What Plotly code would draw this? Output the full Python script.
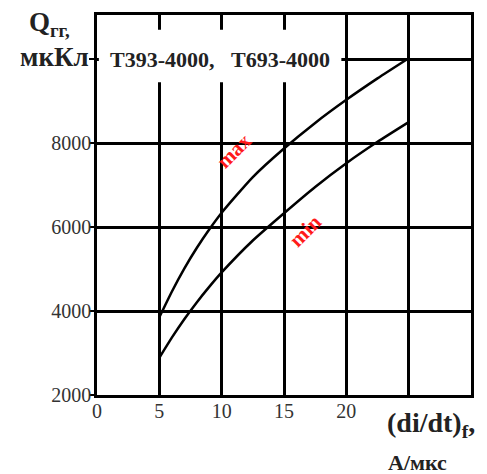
import plotly.graph_objects as go

# Data
x_max = [5, 6, 7, 8, 9, 10, 12.5, 15, 17.5, 20, 22.5, 25]
q_max = [3850, 4460, 5010, 5500, 5940, 6340, 7190, 7870, 8480, 9030, 9540, 10020]
x_min = [5, 6, 7, 8, 9, 10, 12.5, 15, 17.5, 20, 22.5, 25]
q_min = [2885, 3365, 3805, 4205, 4575, 4920, 5680, 6330, 6955, 7520, 8030, 8500]

x_ticks = [0, 5, 10, 15, 20, 25]
x_ticktext = ["0", "5", "10", "15", "20", ""]
y_ticks = [2000, 4000, 6000, 8000, 10000]
y_ticktext = ["2000", "4000", "6000", "8000", ""]

SERIF = "Liberation Serif, Times New Roman, serif"

fig = go.Figure()
for xs, ys in [(x_max, q_max), (x_min, q_min)]:
    fig.add_trace(go.Scatter(x=xs, y=ys, mode="lines",
                             line=dict(color="black", width=2.5, shape="spline", smoothing=0.6),
                             showlegend=False, hoverinfo="skip"))

fig.update_layout(
    width=487, height=474,
    margin=dict(l=97, r=16, t=15, b=79),
    paper_bgcolor="white", plot_bgcolor="white",
    font=dict(family=SERIF, color="#222", size=20),
    xaxis=dict(range=[0, 30], tickvals=x_ticks, ticktext=x_ticktext,
               showgrid=True, gridcolor="black", gridwidth=2.5,
               showline=True, linecolor="black", linewidth=2.5, mirror=True,
               ticks="", zeroline=False, ticklabelstandoff=-4,
               tickfont=dict(size=20, family=SERIF, color="#333")),
    yaxis=dict(range=[2000, 11050], tickvals=y_ticks, ticktext=y_ticktext,
               showgrid=True, gridcolor="black", gridwidth=2.5,
               showline=True, linecolor="black", linewidth=2.5, mirror=True,
               ticks="outside", ticklen=5, tickwidth=2, tickcolor="black",
               zeroline=False, ticklabelstandoff=-6,
               tickfont=dict(size=20, family=SERIF, color="#333")),
)

# white box behind device label
fig.add_shape(type="rect", xref="x", yref="y", x0=0.15, x1=19.6, y0=9450, y1=10700,
              fillcolor="white", line=dict(width=0), layer="above")
fig.add_annotation(xref="x", yref="y", x=9.9, y=10000,
                   text="<b>Т393-4000,&nbsp;&nbsp;&nbsp;Т693-4000</b>",
                   showarrow=False, font=dict(size=22, family=SERIF, color="#222"))

# curve labels
fig.add_annotation(xref="x", yref="y", x=11.0, y=7800, text="<b>max</b>", textangle=-45,
                   showarrow=False, font=dict(size=21, family=SERIF, color="#ff1a1a"))
fig.add_annotation(xref="x", yref="y", x=16.7, y=5900, text="<b>min</b>", textangle=-45,
                   showarrow=False, font=dict(size=21, family=SERIF, color="#ff1a1a"))

# axis titles (pixel offsets relative to plot-area corners)
fig.add_annotation(xref="paper", yref="paper", x=0, y=1.0, xanchor="left", yanchor="top",
                   text="<b>Q<sub>гг,</sub></b>", showarrow=False, xshift=-70, yshift=10,
                   font=dict(size=27, family=SERIF, color="#222"))
fig.add_annotation(xref="paper", yref="paper", x=0, y=1.0, xanchor="right", yanchor="middle",
                   text="<b>мкКл</b>", showarrow=False, xshift=-6, yshift=-42,
                   font=dict(size=27, family=SERIF, color="#222"))
fig.add_annotation(xref="paper", yref="paper", x=1.0, y=0, xanchor="left", yanchor="top",
                   text="<b>(di/dt)<sub>f</sub>,</b>", showarrow=False, xshift=-86, yshift=-10,
                   font=dict(size=28, family=SERIF, color="#222"))
fig.add_annotation(xref="paper", yref="paper", x=1.0, y=0, xanchor="left", yanchor="top",
                   text="<b>А/мкс</b>", showarrow=False, xshift=-85, yshift=-53,
                   font=dict(size=22, family=SERIF, color="#222"))

fig.write_html("out.html", config={"displayModeBar": False},
               post_script="document.body.style.margin='0px';")
